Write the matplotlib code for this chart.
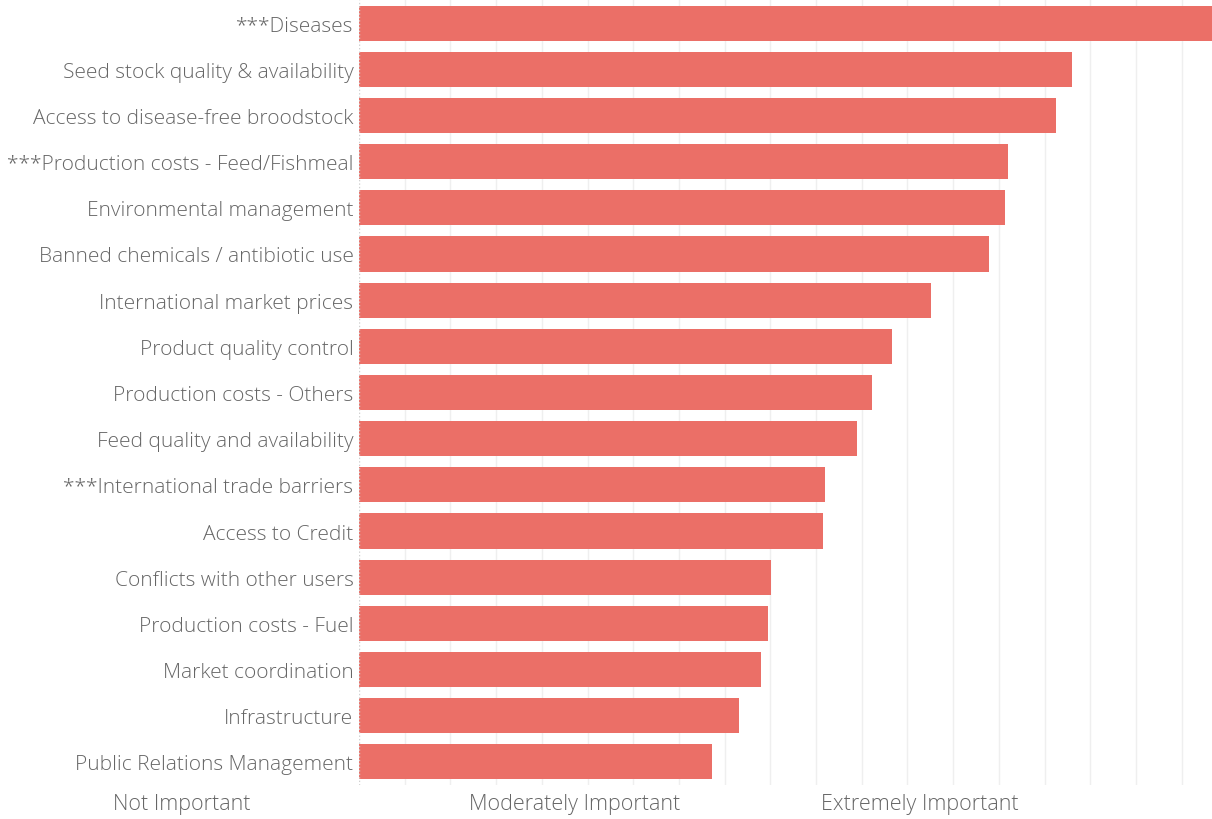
import matplotlib.pyplot as plt

plt.rcParams['font.family'] = ['Open Sans', 'DejaVu Sans']

issues = ['***Diseases', 'Seed stock quality & availability',
          'Access to disease-free broodstock', '***Production costs - Feed/Fishmeal',
          'Environmental management', 'Banned chemicals / antibiotic use',
          'International market prices', 'Product quality control',
          'Production costs - Others', 'Feed quality and availability',
          '***International trade barriers', 'Access to Credit',
          'Conflicts with other users', 'Production costs - Fuel',
          'Market coordination', 'Infrastructure', 'Public Relations Management']
scores = [1.867, 1.560, 1.525, 1.420, 1.413, 1.379, 1.252, 1.166, 1.123,
          1.090, 1.020, 1.015, 0.902, 0.895, 0.879, 0.831, 0.772]
scale_labels = ['Not Important', 'Moderately Important', 'Extremely Important']
scale_x = [182, 575, 920]

bar_col = '#EB6F67'
txt_col = '#666666'

fig = plt.figure(figsize=(12.12, 8.2), dpi=100)
ax = fig.add_axes([359 / 1212, 34 / 820, 853 / 1212, 785 / 820])

ypos = range(len(issues))
ax.barh(ypos, scores, height=0.76, color=bar_col, zorder=2)
ax.set_ylim(len(issues) - 0.5, -0.5)
ax.set_xlim(0, 1.8665)

# light vertical grid every 0.1
for g in [i * 0.1 for i in range(1, 19)]:
    ax.axvline(g, color='#EFEFEF', lw=1, zorder=1)
ax.axvline(0, color='#D0D0D0', lw=1, ls=(0, (1, 1.5)), zorder=3)

ax.set_yticks(list(ypos))
ax.set_yticklabels(issues, fontsize=15, color=txt_col, fontweight='light')
ax.tick_params(axis='y', length=0, pad=4)
ax.set_xticks([])
for s in ax.spines.values():
    s.set_visible(False)

for lbl, x in zip(scale_labels, scale_x):
    fig.text(x / 1212, 1 - 805 / 820, lbl, ha='center', va='center',
             fontsize=15.5, color=txt_col, fontweight='light')

fig.savefig('out.png', dpi=100)
